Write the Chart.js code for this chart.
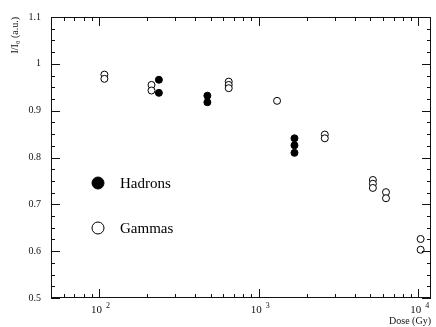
<!DOCTYPE html>
<html>
<head>
<meta charset="utf-8">
<script src="https://cdn.jsdelivr.net/npm/chart.js@4/dist/chart.umd.min.js"></script>
<style>
  html, body { margin: 0; padding: 0; background: #fff; }
  canvas { display: block; }
</style>
</head>
<body>
<canvas id="c" width="436" height="327"></canvas>
<script>
// Relative response I/I0 versus absorbed dose
const hadronDose  = [237, 237, 477, 477, 1675, 1675, 1675];
const hadronRatio = [0.966, 0.938, 0.932, 0.918, 0.841, 0.826, 0.810];

const gammaDose  = [108, 108, 213, 213, 649, 649, 649, 1303, 2594, 2594, 5190, 5190, 5190, 6270, 6270, 10330, 10330];
const gammaRatio = [0.977, 0.968, 0.955, 0.943, 0.962, 0.955, 0.948, 0.921, 0.849, 0.841, 0.752, 0.744, 0.735, 0.726, 0.713, 0.626, 0.603];

const doseTicks         = [100, 1000, 10000];
const doseTickBase      = '10';
const doseTickExponents = ['2', '3', '4'];
const ratioTicks        = [0.5, 0.6, 0.7, 0.8, 0.9, 1, 1.1];

const SERIF = "'Liberation Serif', 'DejaVu Serif', serif";

function toPoints(xs, ys) {
  return xs.map((x, i) => ({ x: x, y: ys[i] }));
}

// Frame with inward major/minor tick marks on all four sides,
// plus power-of-ten labels under the dose axis
const frameTicks = {
  id: 'frameTicks',
  afterDraw(chart) {
    const { ctx, chartArea: { left, right, top, bottom }, scales: { x, y } } = chart;
    ctx.save();
    ctx.strokeStyle = '#111';
    ctx.lineWidth = 1;
    ctx.strokeRect(Math.round(left) + 0.5, Math.round(top) + 0.5,
                   Math.round(right - left) - 1, Math.round(bottom - top) - 1);
    ctx.beginPath();
    [10, 100, 1000, 10000].forEach(d => {
      for (let k = 1; k <= 9; k++) {
        const v = k * d;
        if (v < x.min || v > x.max) continue;
        const px = Math.round(x.getPixelForValue(v)) + 0.5;
        const len = k === 1 ? 9 : 4;
        ctx.moveTo(px, bottom); ctx.lineTo(px, bottom - len);
        ctx.moveTo(px, top);    ctx.lineTo(px, top + len);
      }
    });
    for (let i = 0; i <= 24; i++) {
      const v = y.min + i * 0.025;
      const py = Math.round(y.getPixelForValue(v)) + 0.5;
      const len = i % 4 === 0 ? 9 : 4;
      ctx.moveTo(left, py);  ctx.lineTo(left + len, py);
      ctx.moveTo(right, py); ctx.lineTo(right - len, py);
    }
    ctx.stroke();

    ctx.fillStyle = '#111';
    ctx.textBaseline = 'top';
    x.ticks.forEach((t, i) => {
      const px = x.getPixelForValue(t.value);
      ctx.font = '11px ' + SERIF;
      ctx.textAlign = 'center';
      ctx.fillText(doseTickBase, px - 2.5, bottom + 7);
      ctx.font = '8px ' + SERIF;
      ctx.textAlign = 'left';
      ctx.fillText(doseTickExponents[i], px + 7, bottom + 4);
    });
    ctx.restore();
  }
};

// Legend drawn inside the plotting area
const innerLegend = {
  id: 'innerLegend',
  afterDraw(chart) {
    const { ctx } = chart;
    const rows = [{ cy: 183 }, { cy: 228 }];
    ctx.save();
    chart.data.datasets.forEach((ds, i) => {
      const cy = rows[i].cy;
      ctx.beginPath();
      ctx.arc(98, cy, 6, 0, Math.PI * 2);
      ctx.fillStyle = ds.backgroundColor;
      ctx.fill();
      ctx.lineWidth = 1;
      ctx.strokeStyle = ds.borderColor;
      ctx.stroke();
      ctx.fillStyle = '#000';
      ctx.font = '15px ' + SERIF;
      ctx.textBaseline = 'middle';
      ctx.textAlign = 'left';
      ctx.fillText(ds.label, 120, cy + 1);
    });
    ctx.restore();
  }
};

new Chart(document.getElementById('c'), {
  type: 'scatter',
  data: {
    datasets: [
      {
        label: 'Hadrons',
        data: toPoints(hadronDose, hadronRatio),
        backgroundColor: '#000',
        borderColor: '#000',
        borderWidth: 1,
        pointRadius: 3.5
      },
      {
        label: 'Gammas',
        data: toPoints(gammaDose, gammaRatio),
        backgroundColor: '#fff',
        borderColor: '#000',
        borderWidth: 1,
        pointRadius: 3.5
      }
    ]
  },
  options: {
    responsive: false,
    devicePixelRatio: 1,
    animation: false,
    layout: { padding: { top: 17, right: 2, left: 0, bottom: 0 } },
    plugins: { legend: { display: false }, tooltip: { enabled: false } },
    scales: {
      x: {
        type: 'logarithmic',
        min: 50,
        max: 12000,
        grid: { display: false, drawTicks: false },
        border: { display: false },
        afterBuildTicks: s => { s.ticks = doseTicks.map(v => ({ value: v, major: true })); },
        afterFit: s => { s.height = 29; },
        ticks: { display: false, autoSkip: false, maxRotation: 0 },
        title: {
          display: true,
          text: 'Dose (Gy)',
          align: 'end',
          color: '#111',
          font: { family: SERIF, size: 10 },
          padding: 0
        }
      },
      y: {
        type: 'linear',
        min: 0.5,
        max: 1.1,
        grid: { display: false, drawTicks: false },
        border: { display: false },
        afterBuildTicks: s => { s.ticks = ratioTicks.map(v => ({ value: v })); },
        afterFit: s => { s.width = 51; },
        ticks: {
          padding: 10,
          color: '#111',
          font: { family: SERIF, size: 10 },
          callback: v => String(Math.round(v * 10) / 10)
        },
        title: {
          display: true,
          text: 'I/I\u2080 (a.u.)',
          align: 'end',
          color: '#111',
          font: { family: SERIF, size: 10 },
          padding: { top: 9, bottom: 0 }
        }
      }
    }
  },
  plugins: [frameTicks, innerLegend]
});
</script>
</body>
</html>
